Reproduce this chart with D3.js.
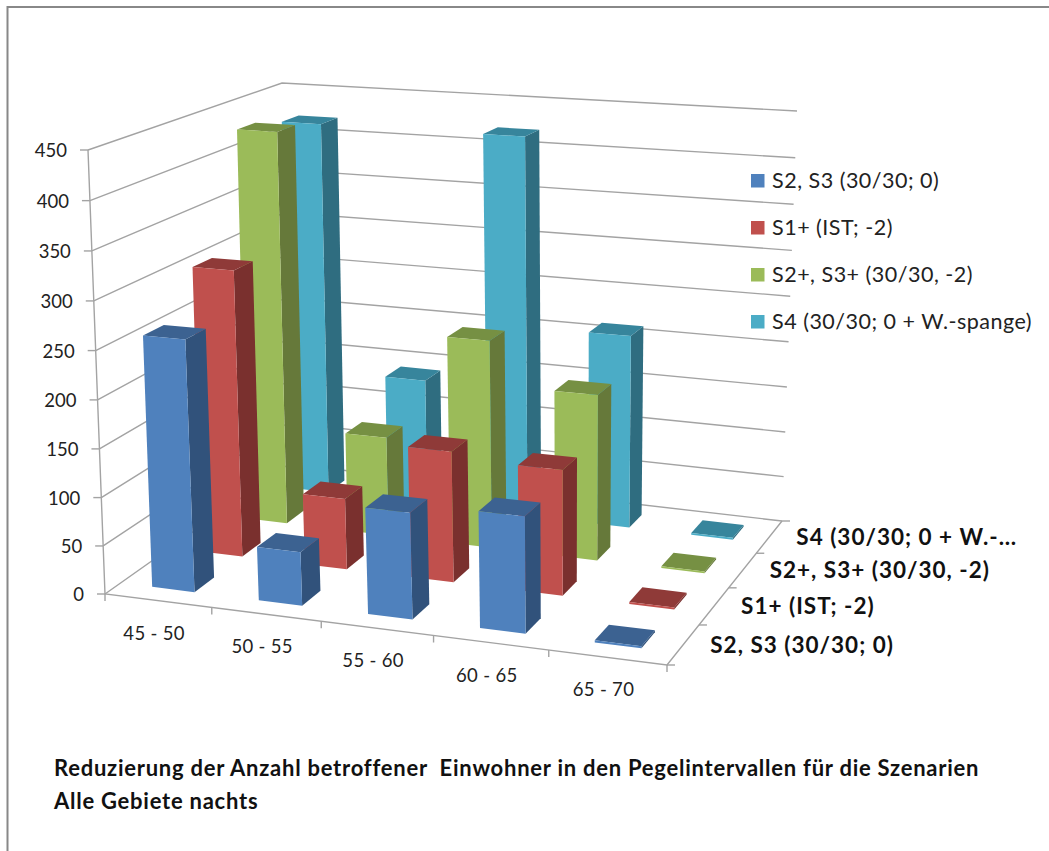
<!DOCTYPE html>
<html><head><meta charset="utf-8">
<script src="https://cdn.jsdelivr.net/npm/d3@7"></script>
<style>html,body{margin:0;padding:0;background:#fff;overflow:hidden}svg{display:block}text{font-family:Lato,"Noto Sans",sans-serif}</style>
</head><body><svg id="c" width="1049" height="851"></svg>
<script>
const categories = ["45 - 50","50 - 55","55 - 60","60 - 65","65 - 70"];
const seriesNames = ["S2, S3 (30/30; 0)","S1+ (IST; -2)","S2+, S3+ (30/30, -2)","S4 (30/30; 0 + W.-spange)"];
const depthLabels = ["S2, S3 (30/30; 0)","S1+ (IST; -2)","S2+, S3+ (30/30, -2)","S4 (30/30; 0 + W.-…"];
const s1Values = [260,55,108,117,2];
const s2Values = [305,75,137,130,2];
const s3Values = [430,108,224,177,2];
const s4Values = [420,141,420,212,2];
const yTicks = [0,50,100,150,200,250,300,350,400,450];
const frontColors = ["#4F81BD","#C0504D","#9BBB59","#4BACC6"];
const topColors = ["#3C6291","#8F3A38","#769043","#37859C"];
const sideColors = ["#31527B","#7A302E","#66793A","#2F6D80"];
const titleLines = ["Reduzierung der Anzahl betroffener  Einwohner in den Pegelintervallen für die Szenarien","Alle Gebiete nachts"];

const allValues = [s1Values,s2Values,s3Values,s4Values];
function homography(q){
  const [p0,p1,p2,p3]=q;
  const dx1=p1[0]-p2[0],dx2=p3[0]-p2[0],sx=p0[0]-p1[0]+p2[0]-p3[0];
  const dy1=p1[1]-p2[1],dy2=p3[1]-p2[1],sy=p0[1]-p1[1]+p2[1]-p3[1];
  const den=dx1*dy2-dx2*dy1;
  const g=(sx*dy2-dx2*sy)/den,h=(dx1*sy-sx*dy1)/den;
  const a=p1[0]-p0[0]+g*p1[0],b=p3[0]-p0[0]+h*p3[0],c=p0[0];
  const d=p1[1]-p0[1]+g*p1[1],e=p3[1]-p0[1]+h*p3[1],f=p0[1];
  return (u,v)=>{const w=g*u+h*v+1;return [(a*u+b*v+c)/w,(d*u+e*v+f)/w];};
}
const floorH=homography([[105,594],[667,665],[782,521],[289,464]]);
const topH=homography([[88,150],[678,190],[797,111],[282,83]]);
const yScale=d3.scaleLinear().domain([0,450]).range([0,1]);
const K=1.03;
function P(u0,v,val){
  const k=1+0.025*(1-v), u=u0/(u0+(1-u0)*k);
  const t=yScale(val),s=t/(t+(1-t)*K);
  const F=floorH(u,v),T=topH(u,v);
  return [F[0]+(T[0]-F[0])*s,F[1]+(T[1]-F[1])*s];
}
const uBand=d3.scaleBand().domain(categories).range([0,1]).paddingInner(.6).paddingOuter(.3);
const vBand=d3.scaleBand().domain(seriesNames).range([0,1]).paddingInner(.6).paddingOuter(.3);
const uStep=d3.scaleLinear().domain([0,categories.length]).range([0,1]);
const vStep=d3.scaleLinear().domain([0,seriesNames.length]).range([0,1]);
const line=d3.line();
const svg=d3.select("#c");
svg.append("path").attr("d",line([[7.5,851],[7.5,7],[1049,7]])).attr("fill","none").attr("stroke","#888").attr("stroke-width",2);

const gridC="#a3a3a3";
const g=svg.append("g");
yTicks.forEach(y=>{
  g.append("path").attr("d",line([P(0,0,y),P(0,1,y),P(1,1,y)])).attr("fill","none").attr("stroke",gridC).attr("stroke-width",1.4);
  const a=P(0,0,y);
  g.append("line").attr("x1",a[0]-8).attr("y1",a[1]).attr("x2",a[0]).attr("y2",a[1]).attr("stroke",gridC).attr("stroke-width",1.4);
  svg.append("text").attr("x",a[0]-21).attr("y",a[1]+7).attr("text-anchor","end").attr("font-size",18.5).attr("fill","#222").text(y);
});
g.append("path").attr("d",line([P(0,0,450),P(0,0,0),P(1,0,0),P(1,1,0)])).attr("fill","none").attr("stroke",gridC).attr("stroke-width",1.4);
d3.range(categories.length+1).forEach(i=>{
  const a=P(uStep(i),0,0);
  g.append("line").attr("x1",a[0]).attr("y1",a[1]).attr("x2",a[0]).attr("y2",a[1]+7).attr("stroke",gridC).attr("stroke-width",1.4);
});
d3.range(seriesNames.length+1).forEach(i=>{
  const a=P(1,vStep(i),0);
  g.append("line").attr("x1",a[0]).attr("y1",a[1]).attr("x2",a[0]+8).attr("y2",a[1]).attr("stroke",gridC).attr("stroke-width",1.4);
});
categories.forEach((c,i)=>{
  const a=P(uBand(c)+uBand.bandwidth()/2,0,0);
  svg.append("text").attr("x",a[0]-4).attr("y",a[1]+39).attr("text-anchor","middle").attr("font-size",18.5).attr("letter-spacing",.3).attr("fill","#222").text(c);
});
depthLabels.forEach((c,i)=>{
  const a=P(1,vBand(seriesNames[i])+vBand.bandwidth()/2,0);
  svg.append("text").attr("x",a[0]+27).attr("y",a[1]+8).attr("font-size",22.5).attr("letter-spacing",1).attr("font-weight",700).attr("fill","#111").text(c);
});
d3.range(seriesNames.length-1,-1,-1).forEach(si=>{
  const v0=vBand(seriesNames[si]),v1=v0+vBand.bandwidth();
  categories.forEach((c,ci)=>{
    const val=allValues[si][ci];
    const u0=uBand(c),u1=u0+uBand.bandwidth();
    const bar=g.append("g");
    bar.append("path").attr("d",line([P(u1,v0,0),P(u1,v1,0),P(u1,v1,val),P(u1,v0,val)])+"Z").attr("fill",sideColors[si]);
    bar.append("path").attr("d",line([P(u0,v0,val),P(u1,v0,val),P(u1,v1,val),P(u0,v1,val)])+"Z").attr("fill",topColors[si]);
    bar.append("path").attr("d",line([P(u0,v0,0),P(u1,v0,0),P(u1,v0,val),P(u0,v0,val)])+"Z").attr("fill",frontColors[si]);
  });
});
const legendRow=d3.scaleLinear().domain([0,3]).range([181,322]);
seriesNames.forEach((n,i)=>{
  const y=legendRow(i);
  svg.append("rect").attr("x",751).attr("y",y-7).attr("width",13.5).attr("height",13.5).attr("fill",frontColors[i]);
  svg.append("text").attr("x",772).attr("y",y+7).attr("font-size",21.5).attr("letter-spacing",.5).attr("fill","#222").text(n);
});
titleLines.forEach((t,i)=>{
  svg.append("text").attr("x",54).attr("y",776+i*33).attr("font-size",22).attr("letter-spacing",.75).attr("font-weight",700).attr("fill","#111").style("white-space","pre").text(t);
});
</script></body></html>
